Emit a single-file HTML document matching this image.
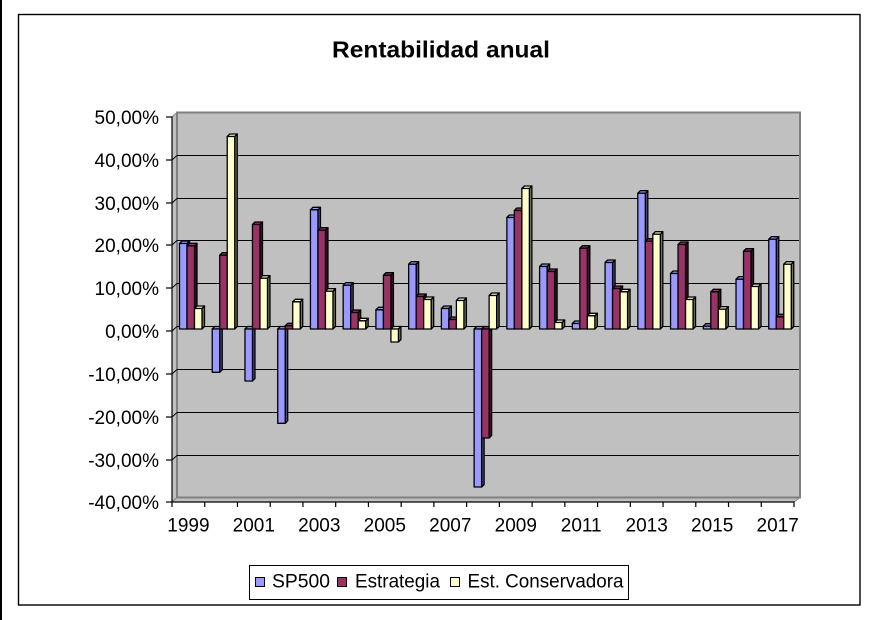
<!DOCTYPE html>
<html><head><meta charset="utf-8">
<style>
html,body{margin:0;padding:0;background:#fff;}
svg{display:block;}
text{font-family:"Liberation Sans",Arial,sans-serif;fill:#000;}
</style></head>
<body>
<svg id="c" width="877" height="620" viewBox="0 0 877 620" xmlns="http://www.w3.org/2000/svg">
<rect x="0" y="0" width="877" height="620" fill="#fff"/>
<rect x="0" y="0" width="2" height="620" fill="#000"/>
<rect x="18.5" y="14.5" width="841.5" height="590.5" fill="#fff" stroke="#000" stroke-width="1.4"/>
<text x="332" y="57.3" font-size="23" font-weight="bold" textLength="218" lengthAdjust="spacingAndGlyphs">Rentabilidad anual</text>

<!-- walls -->
<polygon points="172,117 177,112.5 177,497.5 172,502" fill="#C0C0C0" stroke="#808080"/>
<polygon points="172,502 177,497.5 800,497.5 794,502" fill="#C0C0C0" stroke="#808080"/>
<rect x="177" y="112.5" width="623" height="385" fill="#C0C0C0" stroke="#808080" stroke-width="2"/>

<!-- gridlines on back wall -->
<g stroke="#000" stroke-width="1">
<line x1="177" y1="155.5" x2="799" y2="155.5"/>
<line x1="177" y1="198.5" x2="799" y2="198.5"/>
<line x1="177" y1="240.5" x2="799" y2="240.5"/>
<line x1="177" y1="283.5" x2="799" y2="283.5"/>
<line x1="177" y1="326.5" x2="799" y2="326.5"/>
<line x1="177" y1="369.5" x2="799" y2="369.5"/>
<line x1="177" y1="412.5" x2="799" y2="412.5"/>
<line x1="177" y1="455.5" x2="799" y2="455.5"/>
<!-- side wall diagonals -->
<line x1="172" y1="160" x2="177" y2="155.5"/>
<line x1="172" y1="203" x2="177" y2="198.5"/>
<line x1="172" y1="245" x2="177" y2="240.5"/>
<line x1="172" y1="288" x2="177" y2="283.5"/>
<line x1="172" y1="331" x2="177" y2="326.5"/>
<line x1="172" y1="374" x2="177" y2="369.5"/>
<line x1="172" y1="417" x2="177" y2="412.5"/>
<line x1="172" y1="460" x2="177" y2="455.5"/>
</g>

<g id="bars"></g>

<!-- axes -->
<g stroke="#000" stroke-width="1.2">
<line x1="172" y1="116.5" x2="172" y2="502.5"/>
<line x1="171.5" y1="502" x2="794.5" y2="502"/>
<line x1="166" y1="117" x2="172" y2="117"/>
<line x1="166" y1="160" x2="172" y2="160"/>
<line x1="166" y1="203" x2="172" y2="203"/>
<line x1="166" y1="245" x2="172" y2="245"/>
<line x1="166" y1="288" x2="172" y2="288"/>
<line x1="166" y1="331" x2="172" y2="331"/>
<line x1="166" y1="374" x2="172" y2="374"/>
<line x1="166" y1="417" x2="172" y2="417"/>
<line x1="166" y1="460" x2="172" y2="460"/>
<line x1="166" y1="502" x2="172" y2="502"/>
</g>
<g id="xticks" stroke="#000" stroke-width="1.2"></g>

<!-- y labels -->
<g font-size="19" text-anchor="end">
<text x="159" y="124">50,00%</text>
<text x="159" y="167">40,00%</text>
<text x="159" y="210">30,00%</text>
<text x="159" y="252">20,00%</text>
<text x="159" y="295">10,00%</text>
<text x="159" y="338">0,00%</text>
<text x="159" y="381">-10,00%</text>
<text x="159" y="424">-20,00%</text>
<text x="159" y="467">-30,00%</text>
<text x="159" y="509">-40,00%</text>
</g>

<!-- x labels -->
<g font-size="19" text-anchor="middle">
<text x="188.4" y="531.5">1999</text>
<text x="253.8" y="531.5">2001</text>
<text x="319.3" y="531.5">2003</text>
<text x="384.8" y="531.5">2005</text>
<text x="450.3" y="531.5">2007</text>
<text x="515.8" y="531.5">2009</text>
<text x="581.2" y="531.5">2011</text>
<text x="646.7" y="531.5">2013</text>
<text x="712.2" y="531.5">2015</text>
<text x="777.7" y="531.5">2017</text>
</g>

<!-- legend -->
<rect x="249.5" y="565.5" width="379" height="34" fill="#fff" stroke="#000"/>
<rect x="255.5" y="577.5" width="9" height="9" fill="#9999FF" stroke="#000"/>
<text x="272" y="587.5" font-size="19" textLength="58" lengthAdjust="spacingAndGlyphs">SP500</text>
<rect x="337.5" y="577.5" width="9" height="9" fill="#993366" stroke="#000"/>
<text x="355" y="587.5" font-size="19" textLength="85" lengthAdjust="spacingAndGlyphs">Estrategia</text>
<rect x="450.5" y="577.5" width="9" height="9" fill="#FFFFCC" stroke="#000"/>
<text x="467.5" y="587.5" font-size="19" textLength="156" lengthAdjust="spacingAndGlyphs">Est. Conservadora</text>
</svg>
<script>
(function(){
  var NS="http://www.w3.org/2000/svg";
  var g=document.getElementById("bars");
  var xt=document.getElementById("xticks");
  var cw=622/19, base=329, w=7.5, d=2.5;
  var series=[
    {f:"#9999FF",s:"#4C4C80",off:7.5,v:[241,372.3,381,423.3,207.3,282.7,307.3,261.7,306,487,215,264,321,260,190.7,271,323.7,276.7,236.7]},
    {f:"#993366",s:"#3D1429",off:15,v:[243.3,252.7,222,323.3,227.7,310,272.7,294,317,438,208,269,245.7,286,238.7,242,289.3,248.7,314.3]},
    {f:"#FFFFCC",s:"#737360",off:22.5,v:[306,134,275.7,299.3,288.7,318.3,342,297,298,293,186,320,313.3,289.3,231.7,297,306.7,284,261.7]}
  ];
  function el(n,a,p){var e=document.createElementNS(NS,n);for(var k in a)e.setAttribute(k,a[k]);p.appendChild(e);return e;}
  function pts(a){return a.map(function(p){return p[0].toFixed(2)+","+p[1].toFixed(2);}).join(" ");}
  for(var i=0;i<=19;i++){
    var tx=172+i*cw;
    el("line",{x1:tx,y1:502,x2:tx,y2:507},xt);
  }
  for(var i=0;i<19;i++){
    var xc=172+i*cw;
    for(var s=0;s<3;s++){
      var S=series[s], x=xc+S.off, ob=S.v[i], yT, yB;
      if(ob<base){yT=ob+d;yB=base;}else{yT=base;yB=ob;}
      var a={stroke:"#000","stroke-width":1.3,"stroke-linejoin":"round"};
      var side=Object.assign({points:pts([[x+w,yT],[x+w+d,yT-d],[x+w+d,yB-d],[x+w,yB]]),fill:S.s},a);
      el("polygon",side,g);
      var top=Object.assign({points:pts([[x,yT],[x+d,yT-d],[x+w+d,yT-d],[x+w,yT]]),fill:S.f},a);
      el("polygon",top,g);
      var fr=Object.assign({x:x,y:yT,width:w,height:yB-yT,fill:S.f},a);
      el("rect",fr,g);
    }
  }
})();
</script>
</body></html>
